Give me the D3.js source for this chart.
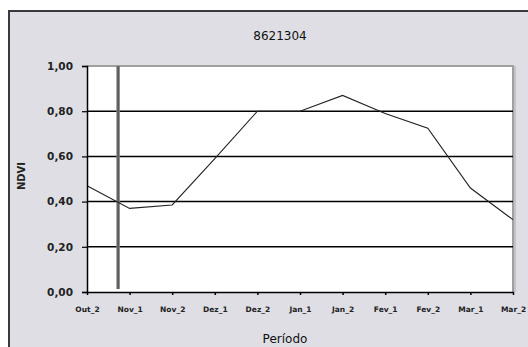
<!DOCTYPE html>
<html><head><meta charset="utf-8">
<script src="https://cdn.jsdelivr.net/npm/d3@7"></script>
<style>body{margin:0;background:#fff}svg{display:block}</style>
</head><body>
<script>
const categories = ["Out_2","Nov_1","Nov_2","Dez_1","Dez_2","Jan_1","Jan_2","Fev_1","Fev_2","Mar_1","Mar_2"];
const ndvi = [0.47,0.37,0.385,0.59,0.80,0.80,0.87,0.79,0.725,0.46,0.32];
const yTicks = [0,0.2,0.4,0.6,0.8,1.0];
const title = "8621304";
const markerPos = 0.73; // vertical marker, in category units

const W=528,H=347;
const m={l:87,r:15,t:66,b:55};
const svg=d3.select("body").append("svg").attr("width",W).attr("height",H);
svg.append("rect").attr("x",9).attr("y",11).attr("width",W).attr("height",H).attr("fill","#dedee4").attr("stroke","#3a3a3a").attr("stroke-width",2);

const x=d3.scalePoint().domain(categories).range([m.l,W-m.r]);
const y=d3.scaleLinear().domain([0,1]).range([H-m.b,m.t]);
const xi=d3.scaleLinear().domain([0,categories.length-1]).range([m.l,W-m.r]);

svg.append("rect").attr("x",m.l).attr("y",m.t).attr("width",W-m.r-m.l).attr("height",H-m.b-m.t).attr("fill","#fff");
// plot border top/right gray
svg.append("path").attr("d",`M${m.l},${m.t}H${W-m.r}V${H-m.b}`).attr("fill","none").attr("stroke","#a0a0a0").attr("stroke-width",2);
svg.append("line").attr("x1",W-m.r+2).attr("x2",W-m.r+2).attr("y1",m.t).attr("y2",H-m.b).attr("stroke","#c4c4c8").attr("stroke-width",2);

// gridlines
svg.append("g").selectAll("line").data(yTicks.filter(d=>d>0&&d<1)).join("line")
 .attr("x1",m.l).attr("x2",W-m.r).attr("y1",d=>y(d)).attr("y2",d=>y(d)).attr("stroke","#000").attr("stroke-width",1.5);

// marker bar
svg.append("line").attr("x1",xi(markerPos)).attr("x2",xi(markerPos)).attr("y1",m.t).attr("y2",y(0)-3)
 .attr("stroke","#808080").attr("stroke-width",3.5);
svg.append("line").attr("x1",xi(markerPos)).attr("x2",xi(markerPos)).attr("y1",m.t).attr("y2",y(0)-3)
 .attr("stroke","#404040").attr("stroke-width",1);

// line
svg.append("path").datum(ndvi).attr("fill","none").attr("stroke","#222").attr("stroke-width",1.1)
 .attr("d",d3.line().x((d,i)=>x(categories[i])).y(d=>y(d)));

const fmt=d=>d3.format(".2f")(d).replace(".",",");
const ya=svg.append("g").attr("transform",`translate(${m.l},0)`).call(d3.axisLeft(y).tickValues(yTicks).tickFormat(fmt).tickSize(5).tickPadding(9));
ya.select(".domain").attr("stroke","#000").attr("stroke-width",1.5);
ya.selectAll(".tick line").attr("stroke","#000").attr("stroke-width",1.2);
ya.selectAll("text").attr("font-family","DejaVu Sans").attr("font-size",10.5).attr("font-weight","bold").attr("fill","#222");

const xa=svg.append("g").attr("transform",`translate(0,${y(0)})`).call(d3.axisBottom(x).tickSize(3).tickPadding(12).tickSizeOuter(0));
xa.select(".domain").attr("stroke","#000").attr("stroke-width",1.5);
xa.selectAll(".tick line").attr("stroke","#000").attr("stroke-width",1.5);
xa.selectAll("text").attr("font-family","DejaVu Sans").attr("font-size",7.5).attr("font-weight","bold").attr("fill","#222");

svg.append("text").attr("x",280).attr("y",40).attr("text-anchor","middle").attr("font-family","DejaVu Sans").attr("font-size",12).attr("fill","#111").text(title);
svg.append("text").attr("x",285).attr("y",343).attr("text-anchor","middle").attr("font-family","DejaVu Sans").attr("font-size",12).attr("fill","#111").text("Período");
svg.append("text").attr("transform","translate(25,176) rotate(-90)").attr("text-anchor","middle").attr("font-family","DejaVu Sans").attr("font-size",10).attr("font-weight","bold").attr("fill","#222").text("NDVI");
</script>
</body></html>
